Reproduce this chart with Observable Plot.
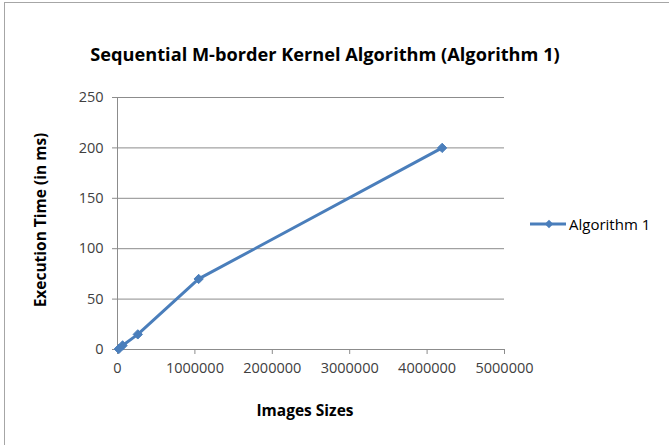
<!DOCTYPE html>
<html>
<head>
<meta charset="utf-8">
<script src="https://cdn.jsdelivr.net/npm/d3@7"></script>
<script src="https://cdn.jsdelivr.net/npm/@observablehq/plot@0.6"></script>
<style>
  html, body { margin: 0; padding: 0; background: #fff; }
  #wrap { position: relative; width: 669px; height: 445px; overflow: hidden; font-family: "Open Sans", sans-serif; }
  #frame { position: absolute; left: 4px; top: 2px; width: 700px; height: 500px; border: 1px solid #a6a6a6; box-sizing: border-box; }
  #title { position: absolute; left: 325px; top: 54px; transform: translate(-50%, -50%); font-weight: bold; font-size: 18.2px; color: #000; white-space: nowrap; }
  #ylab { position: absolute; left: 40px; top: 220px; transform: translate(-50%, -50%) rotate(-90deg); font-weight: bold; font-size: 15.5px; white-space: nowrap; color: #000; }
  #xlab { position: absolute; left: 305px; top: 410px; transform: translate(-50%, -50%); font-weight: bold; font-size: 15.5px; white-space: nowrap; color: #000; }
  #legend { position: absolute; left: 530px; top: 214px; display: flex; align-items: center; font-size: 15px; color: #000; }
  #chart { position: absolute; left: 0; top: 0; }
</style>
</head>
<body>
<div id="wrap">
  <div id="frame"></div>
  <div id="chart"></div>
  <div id="title"></div>
  <div id="ylab"></div>
  <div id="xlab"></div>
  <div id="legend"></div>
</div>
<script>
const titleText = "Sequential M-border Kernel Algorithm (Algorithm 1)";
const xLabel = "Images Sizes";
const yLabel = "Execution Time (in ms)";
const seriesName = "Algorithm 1";
const imageSizes = [16384, 65536, 262144, 1048576, 4194304];
const execTimes = [0.5, 4, 15, 70, 200];
const xTicks = [0, 1000000, 2000000, 3000000, 4000000, 5000000];
const yTicks = [0, 50, 100, 150, 200, 250];
const lineColor = "#4a7ebb";

const data = imageSizes.map((s, i) => ({size: s, time: execTimes[i]}));

const plot = Plot.plot({
  width: 669,
  height: 445,
  marginLeft: 117,
  marginRight: 165,
  marginTop: 97,
  marginBottom: 96,
  style: {fontFamily: "Open Sans, sans-serif", fontSize: "14.5px", color: "#404040", background: "transparent"},
  x: {domain: [0, 5000000], ticks: xTicks, tickFormat: d => String(d), label: null},
  y: {domain: [0, 250], ticks: yTicks, label: null},
  marks: [
    Plot.gridY(yTicks, {stroke: "#8c8c8c", strokeOpacity: 1, strokeWidth: 1}),
    Plot.ruleX([0], {stroke: "#8c8c8c"}),
    Plot.ruleY([0], {stroke: "#8c8c8c"}),
    Plot.axisY(yTicks, {tickSize: 5, tickPadding: 9, stroke: "#8c8c8c", fill: "#404040", label: null}),
    Plot.axisX(xTicks, {tickSize: 5, tickPadding: 8, stroke: "#8c8c8c", fill: "#404040", tickFormat: d => String(d), label: null}),
    Plot.line(data, {x: "size", y: "time", stroke: lineColor, strokeWidth: 3}),
    Plot.dot(data, {x: "size", y: "time", symbol: "diamond2", r: 4.2, fill: lineColor, stroke: lineColor, strokeWidth: 1})
  ]
});
document.getElementById("chart").appendChild(plot);

document.getElementById("title").textContent = titleText;
document.getElementById("ylab").textContent = yLabel;
document.getElementById("xlab").textContent = xLabel;

// legend built with d3
const leg = d3.select("#legend");
const ls = leg.append("svg").attr("width", 38).attr("height", 20);
ls.append("line").attr("x1", 0).attr("x2", 36).attr("y1", 10).attr("y2", 10)
  .attr("stroke", lineColor).attr("stroke-width", 3);
ls.append("path").attr("d", d3.symbol(d3.symbolDiamond2, 45)()).attr("transform", "translate(19,10)")
  .attr("fill", lineColor);
leg.append("span").text(seriesName).style("margin-left", "1px");
</script>
</body>
</html>
